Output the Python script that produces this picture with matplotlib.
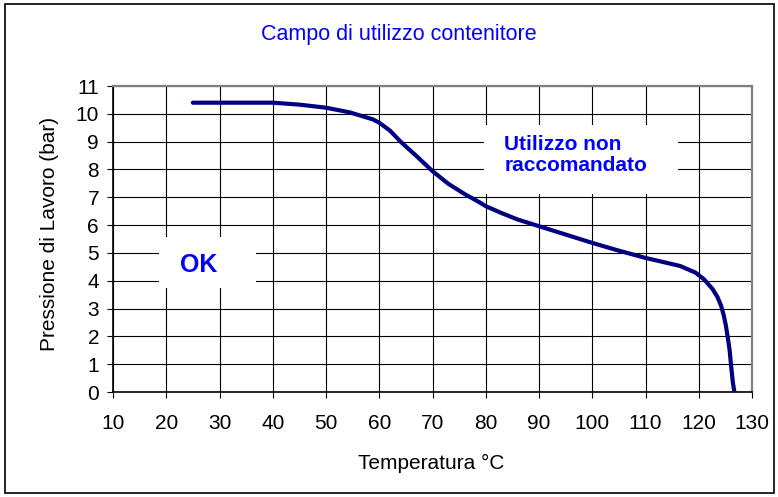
import matplotlib.pyplot as plt
from matplotlib.patches import Rectangle

# curve (temperature in °C, pressure in bar)
temperature = [25, 30, 35, 40, 45, 50, 54.5, 58.8, 60, 62, 64, 67, 70, 73, 76, 79,
               80, 83, 86, 90, 95, 100, 105, 110, 116.5, 119.4, 121, 122.6, 123.5,
               124.2, 124.7, 125.1, 125.5, 125.8, 126.1, 126.4, 126.7]
pressure = [10.4, 10.4, 10.4, 10.4, 10.33, 10.22, 10.05, 9.8, 9.68, 9.4, 9.0, 8.48,
            7.94, 7.48, 7.12, 6.8, 6.68, 6.43, 6.2, 5.96, 5.66, 5.36, 5.08, 4.82,
            4.53, 4.29, 4.05, 3.7, 3.42, 3.1, 2.75, 2.38, 1.9, 1.5, 0.9, 0.35, 0.0]

x_ticks = list(range(10, 131, 10))
y_ticks = list(range(0, 12))

title = 'Campo di utilizzo contenitore'
x_label = 'Temperatura °C'
y_label = 'Pressione di Lavoro (bar)'
ok_label = 'OK'
bad_label = 'Utilizzo non\nraccomandato'

plt.rcParams['font.family'] = ['Liberation Sans', 'DejaVu Sans']

fig = plt.figure(figsize=(7.78, 4.97), dpi=100)
ax = fig.add_axes([113 / 778, 105 / 497, 639 / 778, 306 / 497])

# outer frame around the whole chart
fig.patches.append(Rectangle((5 / 778, 4 / 497), 769 / 778, 489 / 497,
                             transform=fig.transFigure, fill=False,
                             edgecolor='black', linewidth=1.2))

ax.plot(temperature, pressure, color='#000080', linewidth=3.0,
        solid_capstyle='round', solid_joinstyle='round', zorder=4)

ax.set_xlim(10, 130)
ax.set_ylim(0, 11)
ax.set_xticks(x_ticks)
ax.set_yticks(y_ticks)
ax.grid(True, color='black', linewidth=0.8, zorder=0)
ax.set_axisbelow(True)

ax.tick_params(axis='x', direction='out', length=4, width=0.8, pad=12, labelsize=15)
ax.tick_params(axis='y', direction='out', length=4, width=0.8, pad=6, labelsize=15)

for side in ['top', 'right']:
    ax.spines[side].set_color('#808080')
    ax.spines[side].set_linewidth(1.6)
for side in ['left', 'bottom']:
    ax.spines[side].set_color('black')
    ax.spines[side].set_linewidth(1.2)

ax.set_xlabel(x_label, fontsize=15, va='center')
ax.xaxis.set_label_coords(0.498, -0.232)
ax.set_ylabel(y_label, fontsize=15, va='center')
ax.yaxis.set_label_coords(-0.0986, 0.516)

fig.text(0.512, 0.93, title, color='#0000FF', fontsize=15.5, ha='center', va='center')

# white label boxes covering the grid
ax.add_patch(Rectangle((18.65, 3.73), 18.25, 1.85, facecolor='white',
                       edgecolor='none', zorder=2))
ax.text(26.0, 4.56, ok_label, color='#0000FF', fontsize=18, fontweight='bold',
        ha='center', va='center', zorder=3)

ax.add_patch(Rectangle((79.6, 7.11), 36.5, 2.5, facecolor='white',
                       edgecolor='none', zorder=2))
ax.text(83.5, 8.52, bad_label, color='#0000FF', fontsize=15, fontweight='bold',
        ha='left', va='center', linespacing=1.1, zorder=3)

fig.savefig('out.png', dpi=100)
